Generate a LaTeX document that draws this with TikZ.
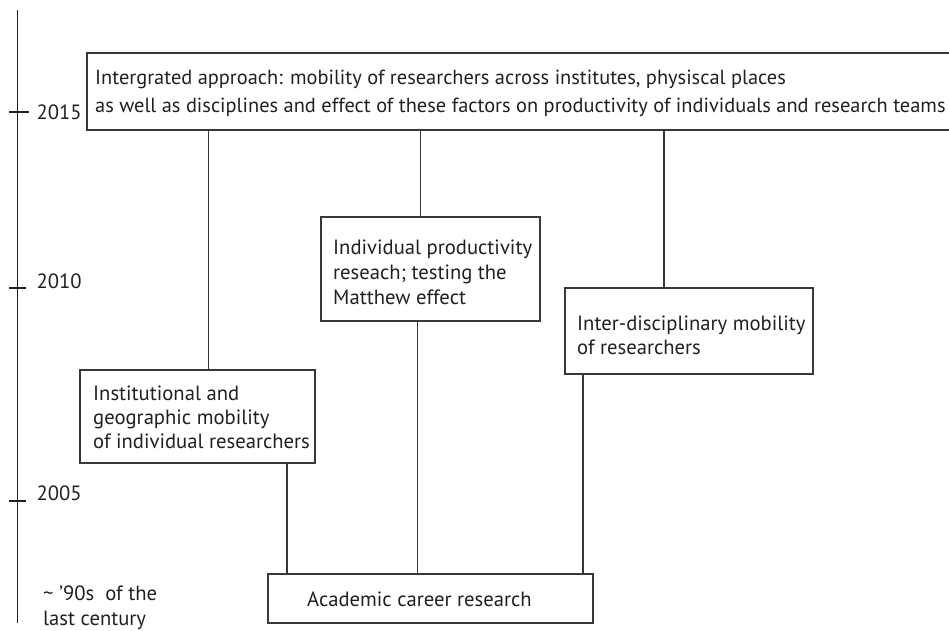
\documentclass[tikz,border=0pt]{standalone}
\usepackage{fontspec}
\setmainfont{PT Sans}
\definecolor{ink}{HTML}{231F20}
\definecolor{edge}{HTML}{383838}
\begin{document}
\begin{tikzpicture}[x=1pt,y=-1pt,
  box/.style={draw=edge,line width=1.3pt,rectangle,inner sep=0pt},
  txt/.style={text=ink,inner sep=0pt,align=left,anchor=base west,font=\fontsize{20.65}{24}\selectfont},
  conn/.style={draw=edge,line width=1.2pt},
  axis/.style={draw=ink,line width=1.3pt},
  yr/.style={text=ink,inner sep=0pt,anchor=base west,font=\fontsize{20.65}{25}\selectfont}]
\useasboundingbox (0,0) rectangle (949,630);
\begin{scope}
\clip (0,0) rectangle (949,630);
% time axis
\coordinate (atop) at (17.3,10);
\coordinate (abot) at (17.3,623);
\draw[axis] (atop) -- (abot);
\coordinate (t15a) at (9,112); \coordinate (t15b) at (29,112);
\coordinate (t10a) at (9,288); \coordinate (t10b) at (26,288);
\coordinate (t05a) at (9,501); \coordinate (t05b) at (26,501);
\draw[axis] (t15a) -- (t15b);
\draw[axis] (t10a) -- (t10b);
\draw[axis] (t05a) -- (t05b);
\node[yr] (y15) at (36.5,119) {2015};
\node[yr] (y10) at (36.5,288) {2010};
\node[yr] (y05) at (36.5,500) {2005};
\node[yr,align=left] (y90) at (43,625) {\textasciitilde\ ’90s\ \ of the\\last century};
% boxes
\node[box,minimum width=880,minimum height=77] (top) at (527,91.5) {};
\node[txt,font=\fontsize{20.4}{28}\selectfont] (toptxt) at (95,112) {Intergrated approach: mobility of researchers across institutes, physiscal places\\as well as disciplines and effect of these factors on productivity of individuals and research teams};
\node[box,minimum width=235,minimum height=93] (inst) at (197.5,416.5) {};
\node[txt] (insttxt) at (93,448.5) {Institutional and\\geographic mobility\\of individual researchers};
\node[box,minimum width=219,minimum height=104] (indiv) at (430.5,269) {};
\node[txt,font=\fontsize{20.65}{25}\selectfont] (indivtxt) at (333,304) {Individual productivity\\reseach; testing the\\Matthew effect};
\node[box,minimum width=248,minimum height=86] (inter) at (689,331) {};
\node[txt] (intertxt) at (577,354.5) {Inter-disciplinary mobility\\of researchers};
\node[box,minimum width=325,minimum height=49] (acad) at (430.5,598.5) {};
\node[txt] (acadtxt) at (307,606) {Academic career research};
% connectors
\draw[conn] (top.south -| 208.5,0) -- (inst.north -| 208.5,0);
\draw[conn] (top.south -| 420.5,0) -- (indiv.north -| 420.5,0);
\draw[conn] (top.south -| 664,0) -- (inter.north -| 664,0);
\draw[conn] (acad.north -| 287,0) -- (inst.south -| 287,0);
\draw[conn] (acad.north -| 417.5,0) -- (indiv.south -| 417.5,0);
\draw[conn] (acad.north -| 583,0) -- (inter.south -| 583,0);
\end{scope}
\end{tikzpicture}
\end{document}
